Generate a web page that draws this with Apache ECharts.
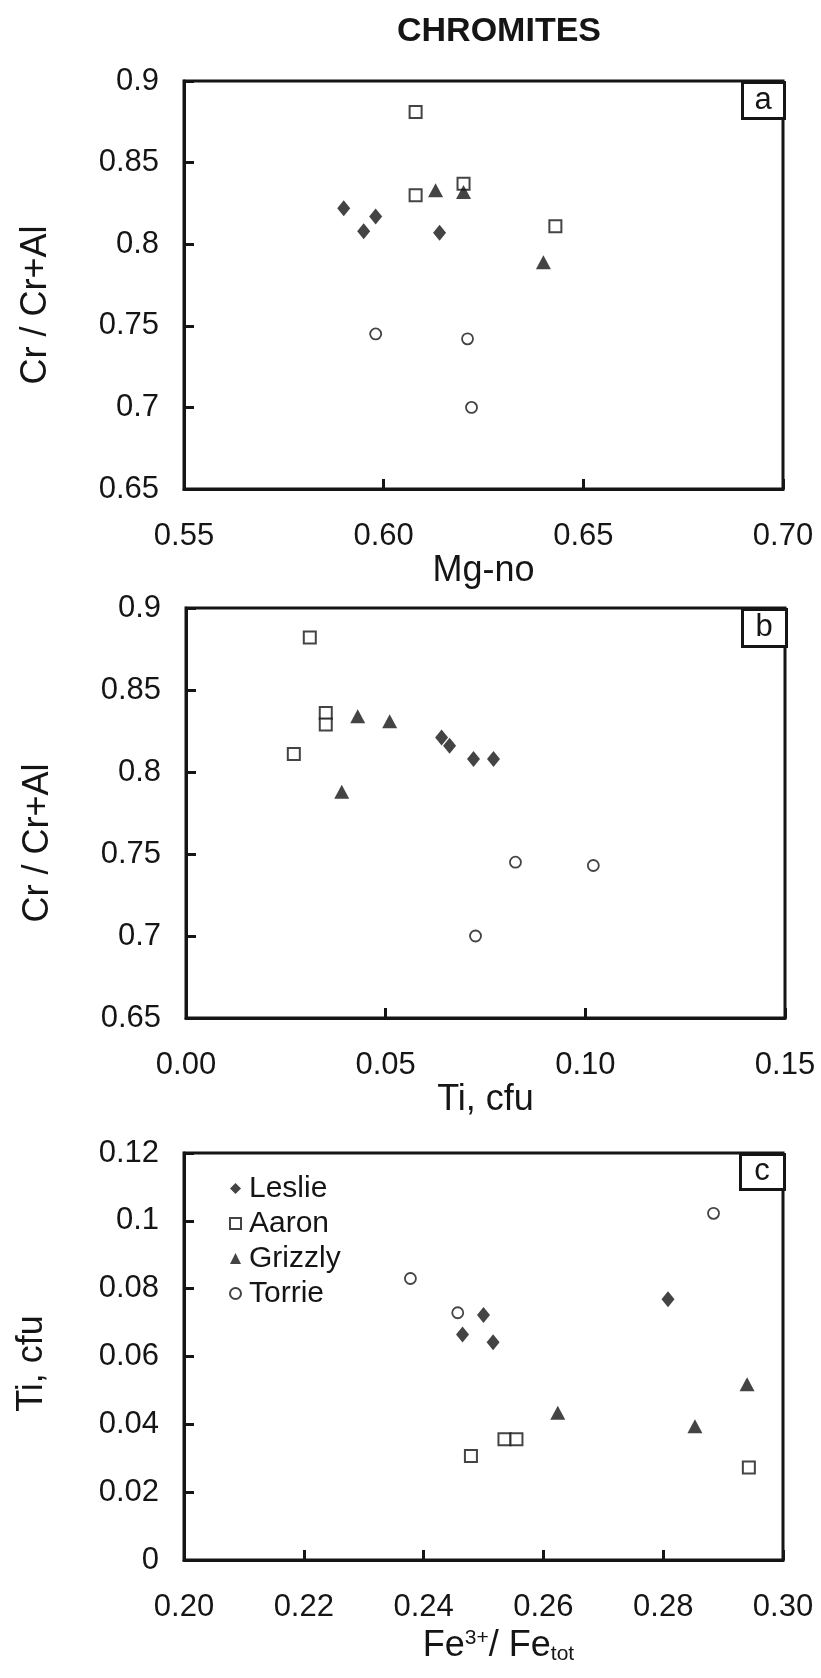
<!DOCTYPE html>
<html>
<head>
<meta charset="utf-8">
<script src="https://cdn.jsdelivr.net/npm/echarts@6/dist/echarts.min.js"></script>
<style>
html,body{margin:0;padding:0;background:#fff;}
#chart{width:821px;height:1678px;}
</style>
</head>
<body>
<div id="chart"></div>
<script>
// ---------- DATA ----------
const seriesNames = ['Leslie', 'Aaron', 'Grizzly', 'Torrie'];

// Panel a: [Mg-no, Cr/(Cr+Al)]
const lesliePanelA  = [[0.590, 0.822], [0.595, 0.808], [0.598, 0.817], [0.614, 0.807]];
const aaronPanelA   = [[0.608, 0.881], [0.608, 0.830], [0.620, 0.837], [0.643, 0.811]];
const grizzlyPanelA = [[0.613, 0.833], [0.620, 0.832], [0.640, 0.789]];
const torriePanelA  = [[0.598, 0.745], [0.621, 0.742], [0.622, 0.700]];

// Panel b: [Ti cfu, Cr/(Cr+Al)]
const lesliePanelB  = [[0.064, 0.821], [0.066, 0.816], [0.072, 0.808], [0.077, 0.808]];
const aaronPanelB   = [[0.031, 0.882], [0.035, 0.836], [0.035, 0.829], [0.027, 0.811]];
const grizzlyPanelB = [[0.043, 0.834], [0.051, 0.831], [0.039, 0.788]];
const torriePanelB  = [[0.0825, 0.745], [0.102, 0.743], [0.0725, 0.700]];

// Panel c: [Fe3+/Fe_tot, Ti cfu]
const lesliePanelC  = [[0.2465, 0.0665], [0.250, 0.0722], [0.2516, 0.0642], [0.2808, 0.0769]];
const aaronPanelC   = [[0.2479, 0.0307], [0.2535, 0.0356], [0.2555, 0.0356], [0.2943, 0.0273]];
const grizzlyPanelC = [[0.2624, 0.0434], [0.2853, 0.0394], [0.2940, 0.0518]];
const torriePanelC  = [[0.2378, 0.0830], [0.2457, 0.0729], [0.2884, 0.1022]];

// Tick labels
const xTicksA = ['0.55', '0.60', '0.65', '0.70'];
const yTicksA = ['0.65', '0.7', '0.75', '0.8', '0.85', '0.9'];
const xTicksB = ['0.00', '0.05', '0.10', '0.15'];
const yTicksB = ['0.65', '0.7', '0.75', '0.8', '0.85', '0.9'];
const xTicksC = ['0.20', '0.22', '0.24', '0.26', '0.28', '0.30'];
const yTicksC = ['0', '0.02', '0.04', '0.06', '0.08', '0.1', '0.12'];

const panelLetters = ['a', 'b', 'c'];
const chartTitle = 'CHROMITES';

// ---------- STYLE ----------
const FONT = '"Liberation Sans", Arial, Helvetica, sans-serif';
const INK = '#151515';
const grids = [
  {left: 184, top: 81, width: 599, height: 408},
  {left: 186, top: 608, width: 599, height: 410},
  {left: 184, top: 1153, width: 599, height: 407}
];

const symbolStyles = {
  Leslie:  {symbol: 'diamond',  symbolSize: [13, 16], itemStyle: {color: INK, borderWidth: 0}},
  Aaron:   {symbol: 'rect',     symbolSize: 12, itemStyle: {color: '#fff', borderColor: INK, borderWidth: 2}},
  Grizzly: {symbol: 'triangle', symbolSize: [15, 14], itemStyle: {color: INK, borderWidth: 0}},
  Torrie:  {symbol: 'circle',   symbolSize: 11, itemStyle: {color: '#fff', borderColor: INK, borderWidth: 1.8}}
};

function xAxisDef(idx, min, max, interval, labels, name) {
  return {
    type: 'value', gridIndex: idx, min: min, max: max, interval: interval,
    name: name, nameLocation: 'middle', nameGap: 58,
    nameTextStyle: {fontFamily: FONT, fontSize: 36, color: INK},
    axisLine: {show: true, onZero: false, lineStyle: {color: INK, width: 3}},
    axisTick: {show: true, inside: true, length: 10, lineStyle: {color: INK, width: 3}},
    axisLabel: {fontFamily: FONT, fontSize: 31, color: INK, margin: 32,
      formatter: (v, i) => labels[Math.round((v - min) / interval)]},
    splitLine: {show: false}
  };
}
function yAxisDef(idx, min, max, interval, labels, name, gap, pad) {
  return {
    type: 'value', gridIndex: idx, min: min, max: max, interval: interval,
    name: name, nameLocation: 'middle', nameGap: gap, nameRotate: 90,
    nameTextStyle: {fontFamily: FONT, fontSize: 36, color: INK, padding: pad},
    axisLine: {show: true, onZero: false, lineStyle: {color: INK, width: 3}},
    axisTick: {show: true, inside: true, length: 10, lineStyle: {color: INK, width: 3}},
    axisLabel: {fontFamily: FONT, fontSize: 31, color: INK, margin: 25,
      formatter: (v, i) => labels[Math.round((v - min) / interval)]},
    splitLine: {show: false}
  };
}

const panelData = [
  [lesliePanelA, aaronPanelA, grizzlyPanelA, torriePanelA],
  [lesliePanelB, aaronPanelB, grizzlyPanelB, torriePanelB],
  [lesliePanelC, aaronPanelC, grizzlyPanelC, torriePanelC]
];

const series = [];
panelData.forEach((sets, p) => {
  sets.forEach((d, s) => {
    const nm = seriesNames[s];
    series.push(Object.assign({
      type: 'scatter', name: nm, xAxisIndex: p, yAxisIndex: p, data: d,
      z: 5
    }, JSON.parse(JSON.stringify(symbolStyles[nm]))));
  });
});

const graphics = [];
const letterBoxes = [
  {x: 741, y: 81, w: 42, h: 36},
  {x: 741, y: 608, w: 44, h: 37},
  {x: 739, y: 1153, w: 44, h: 35}
];
letterBoxes.forEach((b, i) => {
  graphics.push({type: 'rect', left: b.x, top: b.y, shape: {width: b.w, height: b.h},
    style: {fill: '#fff', stroke: INK, lineWidth: 3}, z: 10});
  graphics.push({type: 'text', x: b.x + b.w / 2 + 1, y: b.y + b.h / 2 + 1,
    style: {text: panelLetters[i], font: '31px ' + FONT, fill: INK, align: 'center', verticalAlign: 'middle'}, z: 11});
});

const option = {
  backgroundColor: '#fff',
  animation: false,
  title: {text: chartTitle, left: 494, top: 10, textAlign: 'center',
    textStyle: {fontFamily: FONT, fontSize: 34, fontWeight: 'bold', color: INK}},
  grid: grids.map(g => Object.assign({show: true, borderColor: INK, borderWidth: 3, backgroundColor: 'transparent'}, g)),
  xAxis: [
    xAxisDef(0, 0.55, 0.70, 0.05, xTicksA, 'Mg-no'),
    xAxisDef(1, 0.00, 0.15, 0.05, xTicksB, 'Ti, cfu'),
    Object.assign(xAxisDef(2, 0.20, 0.30, 0.02, xTicksC, 'Fe{sup|3+}/ Fe{sub|tot}'), {
      nameGap: 68,
      nameTextStyle: {fontFamily: FONT, fontSize: 36, color: INK, padding: [0, 0, 0, 30],
        rich: {sup: {fontFamily: FONT, fontSize: 21, color: INK, verticalAlign: 'top', padding: [0, 0, 14, 0]},
               sub: {fontFamily: FONT, fontSize: 21, color: INK, verticalAlign: 'bottom', padding: [16, 0, 0, 0]}}}
    })
  ],
  yAxis: [
    yAxisDef(0, 0.65, 0.90, 0.05, yTicksA, 'Cr / Cr+Al', 130, [0, 40, 0, 0]),
    yAxisDef(1, 0.65, 0.90, 0.05, yTicksB, 'Cr / Cr+Al', 130, [0, 60, 0, 0]),
    yAxisDef(2, 0, 0.12, 0.02, yTicksC, 'Ti, cfu', 134, [0, 14, 0, 0])
  ],
  legend: {
    data: seriesNames, orient: 'vertical', left: 224, top: 1168,
    itemWidth: 11, itemHeight: 11, itemGap: 4,
    textStyle: {fontFamily: FONT, fontSize: 30, color: INK, lineHeight: 31, padding: [0, 0, 0, 3]},
    selectedMode: false
  },
  graphic: graphics,
  series: series
};

const chart = echarts.init(document.getElementById('chart'), null, {renderer: 'canvas'});
chart.setOption(option);
</script>
</body>
</html>
